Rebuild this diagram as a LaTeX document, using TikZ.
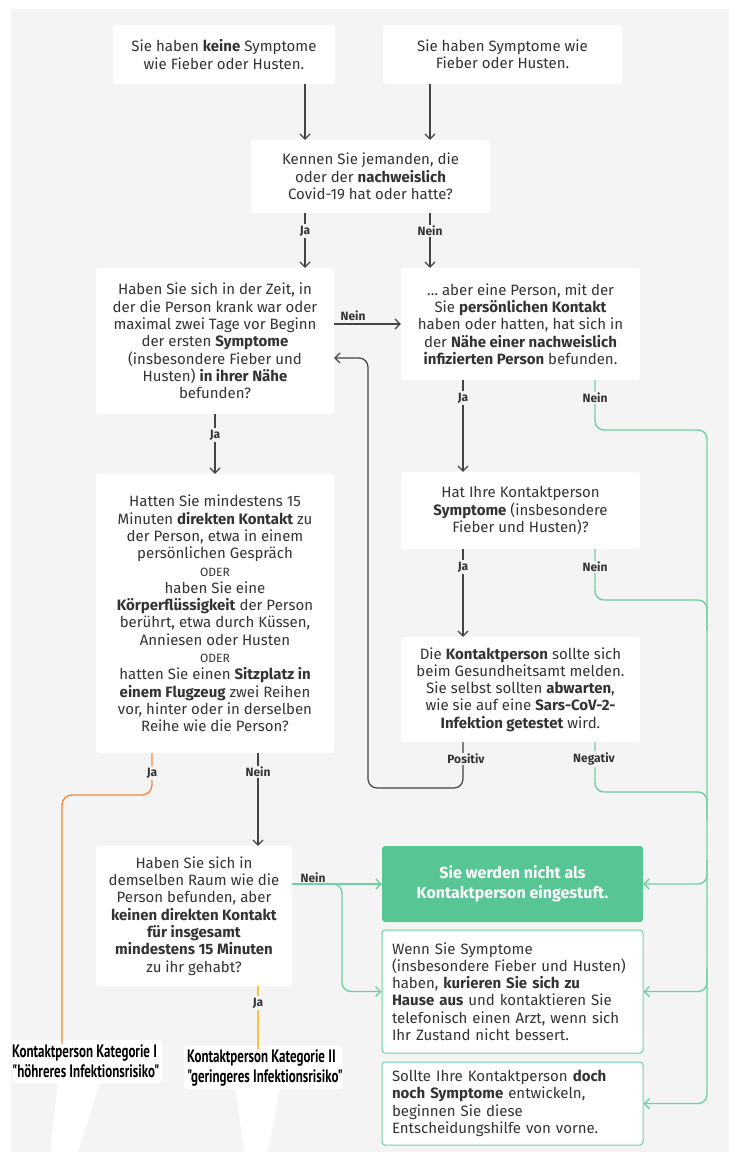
\documentclass[tikz,border=0pt]{standalone}
\usepackage{fontspec}
\setmainfont{Fira Sans}
\newfontfamily\katfont[FakeStretch=0.72]{PT Sans}
\usetikzlibrary{arrows.meta}
\definecolor{bg}{HTML}{F4F4F4}
\definecolor{txt}{HTML}{333333}
\definecolor{ink}{HTML}{444444}
\definecolor{mint}{HTML}{57C594}
\definecolor{mintline}{HTML}{6FD0A2}
\definecolor{orng}{HTML}{F28A3C}
\definecolor{yllw}{HTML}{F8C23E}
\tikzset{
  box/.style={fill=white, rounded corners=3pt, align=center, text=txt, inner sep=0pt,
    font=\fontsize{15}{17.3}\selectfont},
  wh/.style 2 args={minimum width=#1, minimum height=#2},
  okbox/.style={box, fill=mint, text=white, font=\fontsize{16}{20}\selectfont\bfseries},
  tipbox/.style={box, draw=mintline, line width=1pt, align=left, text width=241pt,
    font=\fontsize{15}{17.3}\selectfont},
  arr/.style={draw=ink, line width=1.2pt, -{Straight Barb[length=5pt, width=10pt]}},
  gline/.style={draw=mintline, line width=1.4pt, rounded corners=9pt},
  garr/.style={gline, -{Straight Barb[length=5pt, width=10pt]}},
  lab/.style={fill=bg, text=txt, inner sep=1.5pt, font=\fontsize{12}{14}\selectfont\bfseries},
  labtop/.style={lab, fill=none},
  oder/.style={font=\fontsize{12}{17}\selectfont},
  kat/.style={align=left, anchor=north west, inner sep=0pt, text=black,
    font=\fontsize{18}{20}\katfont\bfseries},
}

\begin{document}
\begin{tikzpicture}[x=1pt, y=-1pt]
  \useasboundingbox (0,0) rectangle (729,1152);
  \fill[bg] (11,9) rectangle (729,1152);

  % columns of the connectors
  \coordinate (cA) at (305,0);
  \coordinate (cB) at (430,0);
  \coordinate (cD) at (463,0);
  \coordinate (cE) at (595,0);
  \coordinate (cF) at (152,0);
  \coordinate (cG) at (258,0);
  \coordinate (oX) at (62,0);
  \coordinate (bus) at (707,0);
  \coordinate (fork) at (342,0);
  \coordinate (loop) at (368,358);

  % white patches behind the category labels
  \fill[white, rounded corners=3pt] (12,1040) -- (162,1040) -- (162,1083) -- (100,1083)
    -- (78,1152) -- (50,1152) -- (58,1083) -- (12,1083) -- cycle;
  \fill[white, rounded corners=3pt] (184,1046) -- (342,1046) -- (342,1089) -- (280,1089)
    -- (268,1152) -- (244,1152) -- (236,1089) -- (184,1089) -- cycle;

  % boxes
  \node[box, wh={222}{59}] (keine) at (224,54.5)
    {Sie haben \textbf{keine} Symptome\\wie Fieber oder Husten.};
  \node[box, wh={239}{59}] (symwie) at (502.5,54.5)
    {Sie haben Symptome wie\\Fieber oder Husten.};
  \node[box, wh={239}{73}] (kennen) at (370.5,176.5)
    {Kennen Sie jemanden, die\\oder der \textbf{nachweislich}\\Covid-19 hat oder hatte?};
  \node[box, wh={238}{146}] (zeit) at (215,341)
    {Haben Sie sich in der Zeit, in\\der die Person krank war oder\\maximal zwei Tage vor Beginn\\der ersten \textbf{Symptome}\\(insbesondere Fieber und\\Husten) \textbf{in ihrer Nähe}\\befunden?};
  \node[box, wh={239}{112}] (aber) at (520.5,324)
    {\dots\ aber eine Person, mit der\\Sie \textbf{persönlichen Kontakt}\\haben oder hatten, hat sich in\\der \textbf{Nähe einer nachweislich}\\\textbf{infizierten Person} befunden.};
  \node[box, wh={239}{77}] (symp) at (520.5,510.5)
    {Hat Ihre Kontaktperson\\\textbf{Symptome} (insbesondere\\Fieber und Husten)?};
  \node[box, wh={239}{105}] (amt) at (520.5,689.5)
    {Die \textbf{Kontaktperson} sollte sich\\beim Gesundheitsamt melden.\\Sie selbst sollten \textbf{abwarten},\\wie sie auf eine \textbf{Sars-CoV-2-}\\\textbf{Infektion getestet} wird.};
  \node[box, wh={238}{279}] (direkt) at (215,613.5)
    {Hatten Sie mindestens 15\\Minuten \textbf{direkten Kontakt} zu\\der Person, etwa in einem\\persönlichen Gespräch\\{\fontsize{12}{21}\selectfont ODER}\\haben Sie eine\\\textbf{Körperflüssigkeit} der Person\\berührt, etwa durch Küssen,\\Anniesen oder Husten\\{\fontsize{12}{17}\selectfont ODER}\\hatten Sie einen \textbf{Sitzplatz in}\\\textbf{einem Flugzeug} zwei Reihen\\vor, hinter oder in derselben\\Reihe wie die Person?};
  \node[box, wh={196}{140}] (raum) at (194,916)
    {Haben Sie sich in\\demselben Raum wie die\\Person befunden, aber\\\textbf{keinen direkten Kontakt}\\\textbf{für insgesamt}\\\textbf{mindestens 15 Minuten}\\zu ihr gehabt?};
  \node[okbox, wh={261}{76}] (nicht) at (512.5,884)
    {Sie werden nicht als\\Kontaktperson eingestuft.};
  \node[tipbox, wh={261}{123}] (haus) at (512.5,991.5)
    {Wenn Sie Symptome\\(insbesondere Fieber und Husten)\\haben, \textbf{kurieren Sie sich zu}\\\textbf{Hause aus} und kontaktieren Sie\\telefonisch einen Arzt, wenn sich\\Ihr Zustand nicht bessert.};
  \node[tipbox, wh={261}{83}] (vorne) at (512.5,1103.5)
    {Sollte Ihre Kontaktperson \textbf{doch}\\\textbf{noch Symptome} entwickeln,\\beginnen Sie diese\\Entscheidungshilfe von vorne.};

  % category labels
  \node[kat] (kat1) at (12,1044) {Kontaktperson Kategorie I\\"höhreres Infektionsrisiko"};
  \node[kat] (kat2) at (187,1049) {Kontaktperson Kategorie II\\"geringeres Infektionsrisiko"};

  % dark connectors
  \draw[arr] (keine.south -| cA) -- (kennen.north -| cA);
  \draw[arr] (symwie.south -| cB) -- (kennen.north -| cB);
  \draw[arr] (kennen.south -| cA) -- (zeit.north -| cA);
  \draw[arr] (kennen.south -| cB) -- (aber.north -| cB);
  \draw[arr] (zeit.east |- aber.west) -- (aber.west);
  \draw[arr] (zeit.south) -- (direkt.north);
  \draw[arr] (aber.south -| cD) -- (symp.north -| cD);
  \draw[arr] (symp.south -| cD) -- (amt.north -| cD);
  \draw[arr, rounded corners=9pt] (amt.south -| cD) -- (463,788) -- (368,788) -- (loop) -- (zeit.east |- loop);
  \draw[arr] (direkt.south -| cG) -- (raum.north -| cG);

  % green connectors
  \draw[garr] (aber.south -| cE) -- (595,430) -- (707,430) -- (bus |- vorne.east) -- (vorne.east);
  \draw[gline] (symp.south -| cE) -- (595,600) -- (707,600) -- (707,630);
  \draw[gline] (amt.south -| cE) -- (595,792) -- (707,792) -- (707,820);
  \draw[garr] ([yshift=24pt]bus |- nicht.east) -- (bus |- nicht.east) -- (nicht.east);
  \draw[garr] ([yshift=24pt]bus |- haus.east) -- (bus |- haus.east) -- (haus.east);
  \draw[garr] (raum.east |- nicht.west) -- (nicht.west);
  \draw[garr] (raum.east |- nicht.west) -- (fork |- nicht.west) -- (fork |- haus.west) -- (haus.west);

  % category lines
  \draw[orng, line width=1.4pt, rounded corners=10pt] (direkt.south -| cF) -- (152,795) -- (62,795) -- (oX |- kat1.north);
  \draw[yllw, line width=1.4pt] (raum.south -| cG) -- (cG |- kat2.north);

  % answer labels
  \node[lab] (ja1) at (305,231) {Ja};
  \node[lab] (nein1) at (430,231) {Nein};
  \node[labtop] (nein2) at (353,316) {Nein};
  \node[lab] (ja2) at (215,435) {Ja};
  \node[lab] (ja3) at (463,398) {Ja};
  \node[lab] (nein3) at (595,398) {Nein};
  \node[lab] (ja4) at (463,567) {Ja};
  \node[lab] (nein4) at (595,567) {Nein};
  \node[lab] (pos) at (466,759) {Positiv};
  \node[lab] (neg) at (594,759) {Negativ};
  \node[lab] (ja5) at (152,773) {Ja};
  \node[lab] (nein5) at (258,772) {Nein};
  \node[labtop] (nein6) at (313,878) {Nein};
  \node[lab] (ja6) at (258,1003) {Ja};
\end{tikzpicture}
\end{document}
